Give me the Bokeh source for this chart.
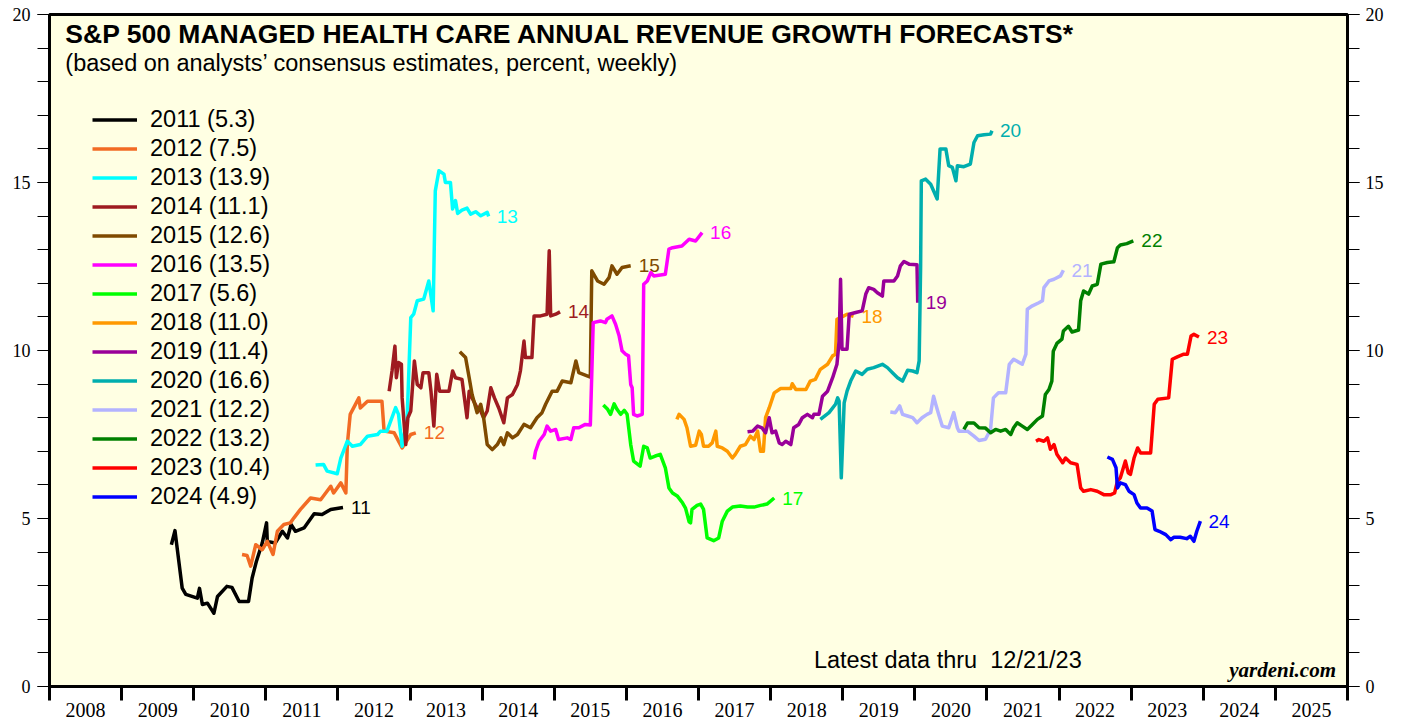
from bokeh.plotting import figure
from bokeh.models import (LinearAxis, FixedTicker, SingleIntervalTicker, Range1d,
                          Legend, LegendItem, Label)
from bokeh.core.properties import value
from bokeh.embed import file_html
from bokeh.resources import INLINE

# ---------------- data ----------------
YEAR_LABELS = ["2008", "2009", "2010", "2011", "2012", "2013", "2014", "2015", "2016",
               "2017", "2018", "2019", "2020", "2021", "2022", "2023", "2024", "2025"]

SERIES_NAMES = ["2011 (5.3)", "2012 (7.5)", "2013 (13.9)", "2014 (11.1)", "2015 (12.6)",
                "2016 (13.5)", "2017 (5.6)", "2018 (11.0)", "2019 (11.4)", "2020 (16.6)",
                "2021 (12.2)", "2022 (13.2)", "2023 (10.4)", "2024 (4.9)"]
END_LABELS = ["11", "12", "13", "14", "15", "16", "17", "18", "19", "20", "21", "22", "23", "24"]
COLORS = ["#000000", "#F26B24", "#00FFFF", "#9E1B20", "#7F4A00", "#FF00FF", "#00FF00",
          "#FF9900", "#990099", "#00AEAE", "#B3B3FF", "#008000", "#FF0000", "#0000FF"]

T2011 = [2009.69, 2009.74, 2009.84, 2009.89, 2010.05, 2010.08, 2010.12, 2010.19, 2010.28, 2010.33,
         2010.46, 2010.53, 2010.63, 2010.76, 2010.81, 2010.87, 2010.95, 2011.01, 2011.02, 2011.13,
         2011.23, 2011.30, 2011.35, 2011.41, 2011.53, 2011.67, 2011.78, 2011.90, 2012.07]
V2011 = [4.22, 4.64, 2.93, 2.74, 2.63, 2.92, 2.44, 2.48, 2.18, 2.68, 2.98, 2.95, 2.53, 2.53, 3.23,
         3.73, 4.27, 4.87, 4.32, 4.27, 4.62, 4.42, 4.82, 4.62, 4.72, 5.14, 5.12, 5.27, 5.33]

T2012 = [2010.67, 2010.74, 2010.79, 2010.86, 2010.95, 2011.02, 2011.10, 2011.16, 2011.25, 2011.34,
         2011.39, 2011.48, 2011.62, 2011.76, 2011.90, 2011.94, 2012.04, 2012.11, 2012.13, 2012.17,
         2012.29, 2012.31, 2012.41, 2012.61, 2012.64, 2012.78, 2012.89, 2013.01, 2013.08]
V2012 = [3.93, 3.90, 3.58, 4.22, 4.07, 4.32, 3.93, 4.62, 4.82, 4.87, 5.02, 5.27, 5.61, 5.56, 5.96,
         5.76, 6.06, 5.76, 7.20, 8.10, 8.59, 8.29, 8.49, 8.49, 7.60, 7.55, 7.10, 7.50, 7.55]

T2013 = [2011.69, 2011.80, 2011.85, 2011.99, 2012.04, 2012.13, 2012.20, 2012.31, 2012.41, 2012.55,
         2012.59, 2012.68, 2012.80, 2012.84, 2012.89, 2012.96, 2013.01, 2013.05, 2013.10, 2013.19,
         2013.26, 2013.32, 2013.35, 2013.40, 2013.47, 2013.49, 2013.56, 2013.59, 2013.63, 2013.66,
         2013.72, 2013.79, 2013.84, 2013.91, 2013.98, 2014.07, 2014.09]
V2013 = [6.59, 6.61, 6.41, 6.33, 6.80, 7.30, 7.15, 7.20, 7.45, 7.50, 7.60, 7.60, 8.30, 8.10, 7.15,
         8.00, 10.98, 11.08, 11.48, 11.53, 12.07, 11.18, 14.75, 15.35, 15.25, 15.00, 15.00, 14.21,
         14.46, 14.08, 14.18, 14.24, 14.06, 14.13, 14.01, 14.11, 13.99]

T2014 = [2012.71, 2012.75, 2012.79, 2012.81, 2012.84, 2012.88, 2012.89, 2012.94, 2012.97, 2013.01,
         2013.06, 2013.10, 2013.15, 2013.18, 2013.26, 2013.29, 2013.33, 2013.37, 2013.41, 2013.54,
         2013.59, 2013.63, 2013.72, 2013.79, 2013.82, 2013.86, 2013.93, 2013.98, 2014.02, 2014.07,
         2014.12, 2014.17, 2014.23, 2014.30, 2014.35, 2014.42, 2014.49, 2014.53, 2014.58, 2014.60,
         2014.69, 2014.72, 2014.81, 2014.90, 2014.93, 2014.95, 2015.02, 2015.08]
V2014 = [8.79, 9.39, 10.13, 9.19, 9.64, 9.59, 8.59, 7.20, 8.00, 8.20, 9.69, 8.99, 8.89, 9.34, 9.34,
         8.79, 7.75, 9.29, 8.79, 8.79, 9.39, 9.19, 9.14, 8.00, 8.79, 8.59, 8.29, 8.20, 8.00, 8.20,
         8.89, 8.59, 8.29, 7.85, 8.59, 8.69, 8.99, 9.39, 10.28, 9.79, 9.79, 11.03, 11.03, 11.08,
         12.97, 11.03, 11.08, 11.15]

T2015 = [2013.69, 2013.77, 2013.82, 2013.86, 2013.93, 2013.98, 2014.02, 2014.07, 2014.14, 2014.21,
         2014.26, 2014.30, 2014.35, 2014.42, 2014.49, 2014.58, 2014.67, 2014.76, 2014.83, 2014.88,
         2014.97, 2015.04, 2015.11, 2015.23, 2015.30, 2015.34, 2015.50, 2015.52, 2015.60, 2015.69,
         2015.76, 2015.80, 2015.87, 2015.94, 2016.06]
V2015 = [9.96, 9.79, 9.19, 8.69, 8.15, 8.40, 8.00, 7.20, 7.05, 7.20, 7.40, 7.20, 7.55, 7.40, 7.50,
         7.80, 7.70, 8.00, 8.15, 8.40, 8.79, 8.79, 9.09, 9.04, 9.69, 9.34, 9.21, 12.37, 12.07, 11.97,
         12.17, 12.52, 12.27, 12.47, 12.52]

T2016 = [2014.72, 2014.74, 2014.79, 2014.86, 2014.90, 2014.95, 2015.02, 2015.06, 2015.18, 2015.23,
         2015.27, 2015.34, 2015.43, 2015.50, 2015.54, 2015.64, 2015.71, 2015.73, 2015.80, 2015.85,
         2015.90, 2015.94, 2015.99, 2016.03, 2016.06, 2016.08, 2016.10, 2016.15, 2016.22, 2016.24,
         2016.29, 2016.34, 2016.38, 2016.54, 2016.59, 2016.64, 2016.77, 2016.87, 2016.96, 2017.05]
V2016 = [6.76, 7.00, 7.30, 7.50, 7.75, 7.60, 7.65, 7.35, 7.40, 7.35, 7.70, 7.70, 7.80, 7.78, 10.83,
         10.88, 10.83, 10.93, 11.03, 10.78, 10.43, 9.99, 9.89, 9.84, 8.99, 8.89, 8.10, 8.05, 8.10,
         11.97, 12.07, 12.32, 12.22, 12.27, 13.02, 13.06, 13.11, 13.31, 13.26, 13.51]

T2017 = [2015.68, 2015.74, 2015.78, 2015.83, 2015.87, 2015.92, 2015.97, 2016.01, 2016.06, 2016.10,
         2016.19, 2016.24, 2016.29, 2016.33, 2016.40, 2016.47, 2016.54, 2016.59, 2016.64, 2016.71,
         2016.78, 2016.82, 2016.87, 2016.89, 2016.91, 2016.98, 2017.03, 2017.07, 2017.12, 2017.21,
         2017.28, 2017.33, 2017.40, 2017.47, 2017.58, 2017.68, 2017.77, 2017.86, 2017.95, 2018.05]
V2017 = [8.38, 8.25, 8.10, 8.41, 8.25, 8.10, 8.22, 8.10, 7.20, 6.71, 6.56, 7.15, 7.10, 6.80, 6.86,
         6.91, 6.51, 5.91, 5.76, 5.66, 5.46, 5.31, 4.90, 4.87, 5.27, 5.39, 5.43, 5.27, 4.42, 4.34,
         4.42, 4.92, 5.22, 5.34, 5.37, 5.34, 5.34, 5.39, 5.43, 5.61]

T2018 = [2016.70, 2016.73, 2016.80, 2016.84, 2016.89, 2016.96, 2017.01, 2017.04, 2017.07, 2017.14,
         2017.19, 2017.24, 2017.26, 2017.33, 2017.40, 2017.47, 2017.51, 2017.58, 2017.65, 2017.72,
         2017.77, 2017.82, 2017.86, 2017.90, 2017.93, 2017.98, 2018.05, 2018.14, 2018.28, 2018.30,
         2018.35, 2018.49, 2018.55, 2018.62, 2018.69, 2018.79, 2018.86, 2018.90, 2018.92, 2018.97,
         2019.06, 2019.15]
V2018 = [7.95, 8.10, 7.95, 7.70, 7.15, 7.18, 7.60, 7.50, 7.15, 7.15, 7.25, 7.60, 7.15, 7.10, 7.00,
         6.80, 6.91, 7.15, 7.20, 7.45, 7.35, 7.60, 7.00, 7.00, 8.00, 8.29, 8.74, 8.87, 8.87, 9.01,
         8.84, 8.84, 9.09, 9.14, 9.44, 9.59, 9.84, 9.89, 10.93, 10.98, 11.08, 11.02]

T2019 = [2017.68, 2017.75, 2017.82, 2017.88, 2017.93, 2017.98, 2018.02, 2018.07, 2018.12, 2018.16,
         2018.21, 2018.28, 2018.32, 2018.39, 2018.44, 2018.51, 2018.58, 2018.60, 2018.67, 2018.72,
         2018.79, 2018.86, 2018.92, 2018.95, 2018.97, 2018.99, 2019.06, 2019.09, 2019.18, 2019.27,
         2019.32, 2019.36, 2019.43, 2019.48, 2019.55, 2019.57, 2019.71, 2019.76, 2019.80, 2019.85,
         2019.92, 2020.03, 2020.04]
V2019 = [7.58, 7.60, 7.75, 7.70, 7.55, 8.00, 7.55, 7.60, 7.25, 7.20, 7.30, 7.20, 7.70, 7.80, 8.00,
         8.10, 8.00, 8.10, 8.10, 8.64, 8.79, 9.19, 9.59, 10.28, 12.12, 10.04, 10.04, 11.08, 11.13,
         11.18, 11.68, 11.87, 11.82, 11.72, 11.62, 12.07, 12.07, 12.22, 12.52, 12.65, 12.57, 12.55,
         11.42]

T2020 = [2018.69, 2018.81, 2018.90, 2018.93, 2018.95, 2018.98, 2019.02, 2019.06, 2019.11, 2019.18,
         2019.27, 2019.34, 2019.43, 2019.55, 2019.62, 2019.69, 2019.76, 2019.83, 2019.90, 2019.97,
         2020.03, 2020.06, 2020.08, 2020.09, 2020.15, 2020.22, 2020.31, 2020.35, 2020.43, 2020.47,
         2020.52, 2020.57, 2020.59, 2020.68, 2020.77, 2020.82, 2020.87, 2020.96, 2021.05, 2021.07]
V2020 = [7.95, 8.15, 8.40, 8.59, 8.49, 6.21, 8.44, 8.79, 9.09, 9.39, 9.29, 9.44, 9.49, 9.59, 9.49,
         9.34, 9.19, 9.09, 9.41, 9.39, 9.34, 9.69, 12.47, 15.05, 15.10, 14.95, 14.51, 16.00, 16.00,
         15.50, 15.45, 15.05, 15.50, 15.47, 15.55, 16.19, 16.39, 16.42, 16.44, 16.54]

T2021 = [2019.66, 2019.73, 2019.79, 2019.83, 2019.90, 2019.97, 2020.03, 2020.10, 2020.17, 2020.22,
         2020.26, 2020.29, 2020.33, 2020.38, 2020.47, 2020.54, 2020.59, 2020.61, 2020.73, 2020.82,
         2020.89, 2020.98, 2021.05, 2021.09, 2021.16, 2021.26, 2021.31, 2021.37, 2021.49, 2021.54,
         2021.56, 2021.63, 2021.72, 2021.77, 2021.79, 2021.86, 2021.93, 2022.02, 2022.06]
V2021 = [8.17, 8.15, 8.35, 8.10, 8.05, 8.00, 7.85, 8.00, 8.10, 8.15, 8.64, 8.40, 8.10, 7.75, 7.70,
         8.15, 7.70, 7.60, 7.60, 7.45, 7.32, 7.36, 7.65, 8.59, 8.74, 8.74, 9.59, 9.74, 9.59, 9.89,
         11.23, 11.33, 11.42, 11.48, 11.87, 12.07, 12.12, 12.22, 12.39]

T2022 = [2020.68, 2020.73, 2020.82, 2020.89, 2020.98, 2021.05, 2021.12, 2021.19, 2021.26, 2021.33,
         2021.37, 2021.42, 2021.49, 2021.56, 2021.63, 2021.70, 2021.77, 2021.81, 2021.86, 2021.90,
         2021.92, 2021.97, 2022.04, 2022.06, 2022.13, 2022.18, 2022.27, 2022.30, 2022.34, 2022.41,
         2022.46, 2022.53, 2022.58, 2022.67, 2022.76, 2022.81, 2022.85, 2022.94, 2023.03]
V2022 = [7.65, 7.84, 7.84, 7.70, 7.69, 7.55, 7.65, 7.60, 7.65, 7.50, 7.70, 7.85, 7.75, 7.65, 7.80,
         7.95, 8.05, 8.69, 8.84, 9.09, 9.98, 10.21, 10.34, 10.58, 10.72, 10.55, 10.61, 11.48, 11.77,
         11.68, 11.92, 11.97, 12.57, 12.62, 12.64, 13.06, 13.14, 13.18, 13.26]

T2023 = [2021.68, 2021.72, 2021.79, 2021.84, 2021.88, 2021.93, 2021.97, 2022.05, 2022.09, 2022.16,
         2022.25, 2022.30, 2022.34, 2022.44, 2022.53, 2022.62, 2022.72, 2022.77, 2022.81, 2022.85,
         2022.92, 2022.96, 2022.99, 2023.04, 2023.09, 2023.13, 2023.27, 2023.32, 2023.37, 2023.52,
         2023.57, 2023.64, 2023.73, 2023.78, 2023.83, 2023.87, 2023.94]
V2023 = [7.30, 7.35, 7.30, 7.40, 7.06, 7.20, 6.91, 6.66, 6.80, 6.66, 6.61, 5.91, 5.81, 5.86, 5.81,
         5.71, 5.71, 5.76, 6.11, 6.21, 6.71, 6.36, 6.31, 6.80, 7.10, 6.95, 6.95, 8.40, 8.55, 8.59,
         9.74, 9.81, 9.89, 9.89, 10.43, 10.48, 10.40]

T2024 = [2022.67, 2022.74, 2022.79, 2022.81, 2022.85, 2022.92, 2022.97, 2023.04, 2023.08, 2023.13,
         2023.22, 2023.29, 2023.33, 2023.39, 2023.48, 2023.55, 2023.59, 2023.68, 2023.77, 2023.82,
         2023.87, 2023.91, 2023.96]
V2024 = [6.83, 6.76, 6.51, 5.91, 6.06, 6.01, 5.81, 5.71, 5.46, 5.31, 5.31, 5.22, 4.67, 4.62, 4.52,
         4.37, 4.44, 4.44, 4.40, 4.47, 4.32, 4.62, 4.92]

SERIES_T = [T2011, T2012, T2013, T2014, T2015, T2016, T2017, T2018, T2019, T2020, T2021, T2022, T2023, T2024]
SERIES_V = [V2011, V2012, V2013, V2014, V2015, V2016, V2017, V2018, V2019, V2020, V2021, V2022, V2023, V2024]

# ---------------- figure ----------------
SANS = "Liberation Sans"
SERIF = "Liberation Serif"

p = figure(width=1397, height=719, x_range=Range1d(2008, 2026), y_range=Range1d(0, 20),
           output_backend="svg", toolbar_location=None, x_axis_type=None, y_axis_type=None,
           min_border_left=49, min_border_right=50, min_border_top=14, min_border_bottom=33,
           background_fill_color="#FFFFE3", border_fill_color="white")
p.grid.visible = False
p.outline_line_color = "black"
p.outline_line_width = 3


def style_y(ax, standoff):
    ax.axis_line_width = 3
    ax.axis_line_color = "black"
    ax.major_tick_out = 12
    ax.major_tick_in = 0
    ax.minor_tick_out = 12
    ax.minor_tick_in = 0
    ax.major_tick_line_color = "black"
    ax.minor_tick_line_color = "black"
    ax.major_label_text_font = SERIF
    ax.major_label_text_font_size = "18px"
    ax.major_label_text_color = "black"
    ax.major_label_standoff = standoff


yl = LinearAxis(ticker=SingleIntervalTicker(interval=5, num_minor_ticks=5))
style_y(yl, 7)
p.add_layout(yl, "left")
yr = LinearAxis(ticker=SingleIntervalTicker(interval=5, num_minor_ticks=5))
style_y(yr, 6)
p.add_layout(yr, "right")

mid_ticks = [int(s) + 0.5 for s in YEAR_LABELS]
bounds = [int(s) for s in YEAR_LABELS] + [int(YEAR_LABELS[-1]) + 1]
xb = LinearAxis(ticker=FixedTicker(ticks=mid_ticks, minor_ticks=bounds),
                major_label_overrides={m: s for m, s in zip(mid_ticks, YEAR_LABELS)})
xb.axis_line_width = 3
xb.axis_line_color = "black"
xb.major_tick_line_color = None
xb.major_tick_out = 0
xb.major_tick_in = 0
xb.minor_tick_out = 14
xb.minor_tick_in = 0
xb.minor_tick_line_width = 3
xb.minor_tick_line_color = "black"
xb.major_label_text_font = SERIF
xb.major_label_text_font_size = "20px"
xb.major_label_text_color = "black"
xb.major_label_standoff = 2
p.add_layout(xb, "below")

items = []
for name, lab, col, t, v in zip(SERIES_NAMES, END_LABELS, COLORS, SERIES_T, SERIES_V):
    r = p.line(t, v, line_color=col, line_width=3.5, line_join="round")
    items.append(LegendItem(label=name, renderers=[r]))
    p.text(x=[t[-1]], y=[v[-1]], text=[lab], x_offset=8, text_baseline="middle",
           text_align="left", text_font=value(SANS), text_font_size="19px", text_color=col)

legend = Legend(items=items, location=(43, 175), glyph_width=45, glyph_height=29,
                label_height=29, spacing=0, padding=0, margin=0, label_standoff=13,
                label_text_font=SANS, label_text_font_size="23.5px", label_text_color="black",
                background_fill_alpha=0, border_line_alpha=0)
p.add_layout(legend)

p.add_layout(Label(x=2008.22, y=19.43, text="S&P 500 MANAGED HEALTH CARE ANNUAL REVENUE GROWTH FORECASTS*",
                   text_font=SANS, text_font_style="bold", text_font_size="26.5px",
                   text_baseline="middle", text_color="black"))
p.add_layout(Label(x=2008.22, y=18.57, text="(based on analysts\u2019 consensus estimates, percent, weekly)",
                   text_font=SANS, text_font_size="23.5px", text_baseline="middle", text_color="black"))
p.add_layout(Label(x=2018.60, y=0.80, text="Latest data thru\u00a0 12/21/23",
                   text_font=SANS, text_font_size="23.5px", text_baseline="middle", text_color="black"))
p.add_layout(Label(x=2025.84, y=0.48, text="yardeni.com", text_align="right",
                   text_font=SERIF, text_font_style="bold italic", text_font_size="21px",
                   text_baseline="middle", text_color="black"))

open("out.html", "w").write(file_html(p, INLINE))
